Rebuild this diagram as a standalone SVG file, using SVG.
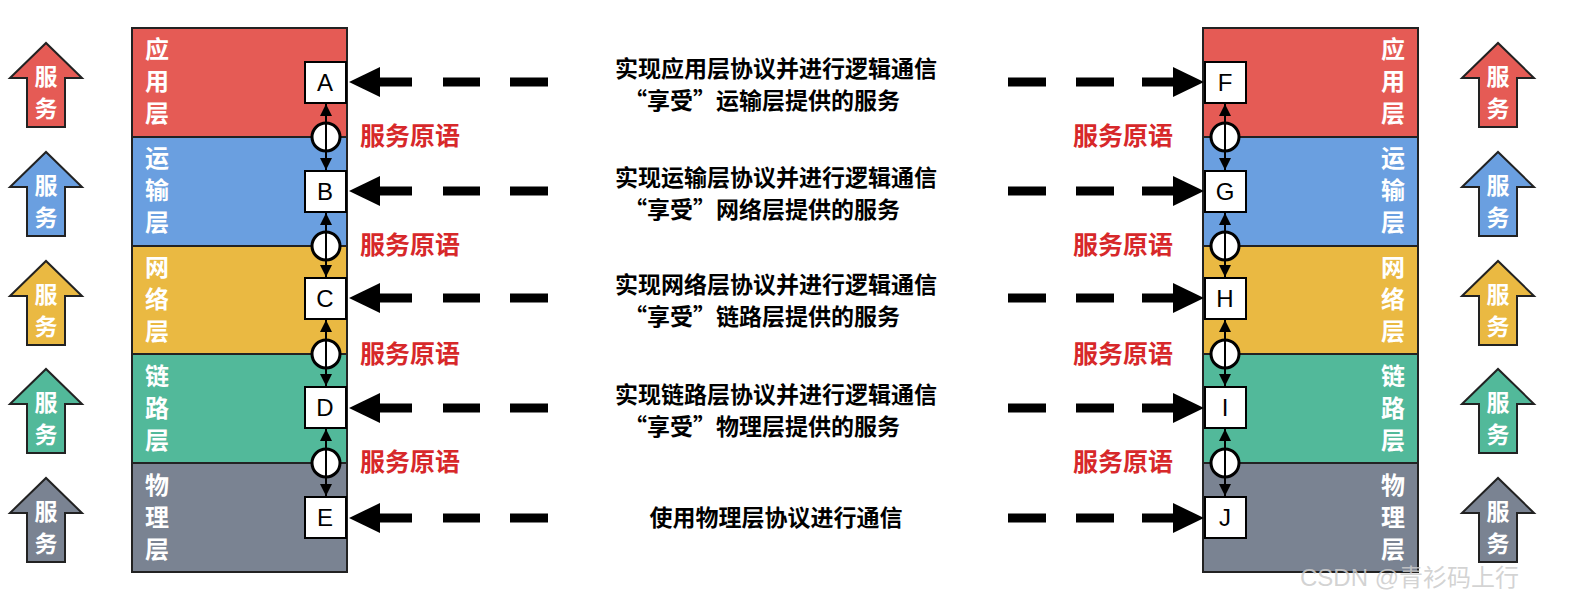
<svg xmlns="http://www.w3.org/2000/svg" width="1587" height="611" viewBox="0 0 1587 611">
<style>
.lt{font-family:"Noto Sans CJK SC",sans-serif;font-weight:bold;font-size:24px;fill:#fff;text-anchor:middle}
.bx{fill:#fff;stroke:#000;stroke-width:2}
.bl{font-family:"Liberation Sans",sans-serif;font-size:24px;text-anchor:middle}
.md{font-family:"Noto Sans CJK SC",sans-serif;font-weight:bold;font-size:23px;text-anchor:middle;fill:#000}
.red{font-family:"Noto Sans CJK SC",sans-serif;font-weight:bold;font-size:25px;fill:#D7282A}
.dash{stroke:#000;stroke-width:9}
.c{fill:#fff;stroke:#000;stroke-width:3}
.v{stroke:#000;stroke-width:2}
.up{stroke:#222;stroke-width:2}
.ut{font-family:"Noto Sans CJK SC",sans-serif;font-weight:bold;font-size:23px;fill:#fff;text-anchor:middle}
</style>
<defs>
<marker id="ah" viewBox="0 0 10 10" refX="10" refY="5" markerWidth="6" markerHeight="6" orient="auto-start-reverse"><path d="M0,0L10,5L0,10z" fill="#000"/></marker>
<path id="uparr" d="M0,35L36,0L72,35L55,35L55,84L17,84L17,35z"/>
</defs>
<rect width="1587" height="611" fill="#fff"/>
<g id="left-stack" stroke="#222" stroke-width="2">
<rect x="132" y="28" width="215" height="109" fill="#E55B55"/>
<rect x="132" y="137" width="215" height="109" fill="#6A9FE0"/>
<rect x="132" y="246" width="215" height="108" fill="#EAB942"/>
<rect x="132" y="354" width="215" height="109" fill="#52B99A"/>
<rect x="132" y="463" width="215" height="109" fill="#7A8392"/>
</g>
<g id="right-stack" stroke="#222" stroke-width="2">
<rect x="1203" y="28" width="215" height="109" fill="#E55B55"/>
<rect x="1203" y="137" width="215" height="109" fill="#6A9FE0"/>
<rect x="1203" y="246" width="215" height="108" fill="#EAB942"/>
<rect x="1203" y="354" width="215" height="109" fill="#52B99A"/>
<rect x="1203" y="463" width="215" height="109" fill="#7A8392"/>
</g>
<g id="layer-labels" class="lt">
<text x="157" y="58" class="lt">应</text><text x="157" y="90" class="lt">用</text><text x="157" y="122" class="lt">层</text>
<text x="157" y="167" class="lt">运</text><text x="157" y="199" class="lt">输</text><text x="157" y="231" class="lt">层</text>
<text x="157" y="276" class="lt">网</text><text x="157" y="308" class="lt">络</text><text x="157" y="340" class="lt">层</text>
<text x="157" y="385" class="lt">链</text><text x="157" y="417" class="lt">路</text><text x="157" y="449" class="lt">层</text>
<text x="157" y="494" class="lt">物</text><text x="157" y="526" class="lt">理</text><text x="157" y="558" class="lt">层</text>
<text x="1393" y="58" class="lt">应</text><text x="1393" y="90" class="lt">用</text><text x="1393" y="122" class="lt">层</text>
<text x="1393" y="167" class="lt">运</text><text x="1393" y="199" class="lt">输</text><text x="1393" y="231" class="lt">层</text>
<text x="1393" y="276" class="lt">网</text><text x="1393" y="308" class="lt">络</text><text x="1393" y="340" class="lt">层</text>
<text x="1393" y="385" class="lt">链</text><text x="1393" y="417" class="lt">路</text><text x="1393" y="449" class="lt">层</text>
<text x="1393" y="494" class="lt">物</text><text x="1393" y="526" class="lt">理</text><text x="1393" y="558" class="lt">层</text>
</g>
<g id="service-arrows">
<use href="#uparr" x="10" y="43" fill="#E55B55" class="up"/>
<use href="#uparr" x="10" y="152" fill="#6A9FE0" class="up"/>
<use href="#uparr" x="10" y="261" fill="#EAB942" class="up"/>
<use href="#uparr" x="10" y="369" fill="#52B99A" class="up"/>
<use href="#uparr" x="10" y="478" fill="#7A8392" class="up"/>
<use href="#uparr" x="1462" y="43" fill="#E55B55" class="up"/>
<use href="#uparr" x="1462" y="152" fill="#6A9FE0" class="up"/>
<use href="#uparr" x="1462" y="261" fill="#EAB942" class="up"/>
<use href="#uparr" x="1462" y="369" fill="#52B99A" class="up"/>
<use href="#uparr" x="1462" y="478" fill="#7A8392" class="up"/>
<g class="ut">
<text x="46" y="85">服</text><text x="46" y="117">务</text>
<text x="46" y="194">服</text><text x="46" y="226">务</text>
<text x="46" y="303">服</text><text x="46" y="335">务</text>
<text x="46" y="411">服</text><text x="46" y="443">务</text>
<text x="46" y="520">服</text><text x="46" y="552">务</text>
<text x="1498" y="85">服</text><text x="1498" y="117">务</text>
<text x="1498" y="194">服</text><text x="1498" y="226">务</text>
<text x="1498" y="303">服</text><text x="1498" y="335">务</text>
<text x="1498" y="411">服</text><text x="1498" y="443">务</text>
<text x="1498" y="520">服</text><text x="1498" y="552">务</text>
</g>
</g>
<g id="connectors">
<g id="vertical">
<line x1="326" y1="104" x2="326" y2="170" class="v" marker-start="url(#ah)" marker-end="url(#ah)"/>
<line x1="326" y1="213" x2="326" y2="277" class="v" marker-start="url(#ah)" marker-end="url(#ah)"/>
<line x1="326" y1="320" x2="326" y2="386" class="v" marker-start="url(#ah)" marker-end="url(#ah)"/>
<line x1="326" y1="429" x2="326" y2="496" class="v" marker-start="url(#ah)" marker-end="url(#ah)"/>
<line x1="1225" y1="104" x2="1225" y2="170" class="v" marker-start="url(#ah)" marker-end="url(#ah)"/>
<line x1="1225" y1="213" x2="1225" y2="277" class="v" marker-start="url(#ah)" marker-end="url(#ah)"/>
<line x1="1225" y1="320" x2="1225" y2="386" class="v" marker-start="url(#ah)" marker-end="url(#ah)"/>
<line x1="1225" y1="429" x2="1225" y2="496" class="v" marker-start="url(#ah)" marker-end="url(#ah)"/>
<circle cx="326" cy="137" r="14" class="c"/><circle cx="326" cy="246" r="14" class="c"/><circle cx="326" cy="354" r="14" class="c"/><circle cx="326" cy="463" r="14" class="c"/>
<circle cx="1225" cy="137" r="14" class="c"/><circle cx="1225" cy="246" r="14" class="c"/><circle cx="1225" cy="354" r="14" class="c"/><circle cx="1225" cy="463" r="14" class="c"/>
<g stroke="#000" stroke-width="2">
<line x1="326" y1="123" x2="326" y2="151"/><line x1="326" y1="232" x2="326" y2="260"/><line x1="326" y1="340" x2="326" y2="368"/><line x1="326" y1="449" x2="326" y2="477"/>
<line x1="1225" y1="123" x2="1225" y2="151"/><line x1="1225" y1="232" x2="1225" y2="260"/><line x1="1225" y1="340" x2="1225" y2="368"/><line x1="1225" y1="449" x2="1225" y2="477"/>
</g>
</g>
<g id="horizontal">
<g id="h1" transform="translate(0,82)">
<path d="M349,0L380,-15L380,15z"/><line x1="378" y1="0" x2="412" y2="0" class="dash"/><line x1="443" y1="0" x2="480" y2="0" class="dash"/><line x1="510" y1="0" x2="548" y2="0" class="dash"/>
<line x1="1008" y1="0" x2="1046" y2="0" class="dash"/><line x1="1076" y1="0" x2="1114" y2="0" class="dash"/><line x1="1142" y1="0" x2="1176" y2="0" class="dash"/><path d="M1204,0L1173,-15L1173,15z"/>
</g>
<g id="h2" transform="translate(0,191)">
<path d="M349,0L380,-15L380,15z"/><line x1="378" y1="0" x2="412" y2="0" class="dash"/><line x1="443" y1="0" x2="480" y2="0" class="dash"/><line x1="510" y1="0" x2="548" y2="0" class="dash"/>
<line x1="1008" y1="0" x2="1046" y2="0" class="dash"/><line x1="1076" y1="0" x2="1114" y2="0" class="dash"/><line x1="1142" y1="0" x2="1176" y2="0" class="dash"/><path d="M1204,0L1173,-15L1173,15z"/>
</g>
<g id="h3" transform="translate(0,298)">
<path d="M349,0L380,-15L380,15z"/><line x1="378" y1="0" x2="412" y2="0" class="dash"/><line x1="443" y1="0" x2="480" y2="0" class="dash"/><line x1="510" y1="0" x2="548" y2="0" class="dash"/>
<line x1="1008" y1="0" x2="1046" y2="0" class="dash"/><line x1="1076" y1="0" x2="1114" y2="0" class="dash"/><line x1="1142" y1="0" x2="1176" y2="0" class="dash"/><path d="M1204,0L1173,-15L1173,15z"/>
</g>
<g id="h4" transform="translate(0,408)">
<path d="M349,0L380,-15L380,15z"/><line x1="378" y1="0" x2="412" y2="0" class="dash"/><line x1="443" y1="0" x2="480" y2="0" class="dash"/><line x1="510" y1="0" x2="548" y2="0" class="dash"/>
<line x1="1008" y1="0" x2="1046" y2="0" class="dash"/><line x1="1076" y1="0" x2="1114" y2="0" class="dash"/><line x1="1142" y1="0" x2="1176" y2="0" class="dash"/><path d="M1204,0L1173,-15L1173,15z"/>
</g>
<g id="h5" transform="translate(0,518)">
<path d="M349,0L380,-15L380,15z"/><line x1="378" y1="0" x2="412" y2="0" class="dash"/><line x1="443" y1="0" x2="480" y2="0" class="dash"/><line x1="510" y1="0" x2="548" y2="0" class="dash"/>
<line x1="1008" y1="0" x2="1046" y2="0" class="dash"/><line x1="1076" y1="0" x2="1114" y2="0" class="dash"/><line x1="1142" y1="0" x2="1176" y2="0" class="dash"/><path d="M1204,0L1173,-15L1173,15z"/>
</g>
</g>
</g>
<g id="A"><rect x="305" y="62" width="41" height="41" class="bx"/><text x="325" y="91" class="bl">A</text></g>
<g id="B"><rect x="305" y="171" width="41" height="41" class="bx"/><text x="325" y="200" class="bl">B</text></g>
<g id="C"><rect x="305" y="278" width="41" height="41" class="bx"/><text x="325" y="307" class="bl">C</text></g>
<g id="D"><rect x="305" y="387" width="41" height="41" class="bx"/><text x="325" y="416" class="bl">D</text></g>
<g id="E"><rect x="305" y="497" width="41" height="41" class="bx"/><text x="325" y="526" class="bl">E</text></g>
<g id="F"><rect x="1205" y="62" width="41" height="41" class="bx"/><text x="1225" y="91" class="bl">F</text></g>
<g id="G"><rect x="1205" y="171" width="41" height="41" class="bx"/><text x="1225" y="200" class="bl">G</text></g>
<g id="H"><rect x="1205" y="278" width="41" height="41" class="bx"/><text x="1225" y="307" class="bl">H</text></g>
<g id="I"><rect x="1205" y="387" width="41" height="41" class="bx"/><text x="1225" y="416" class="bl">I</text></g>
<g id="J"><rect x="1205" y="497" width="41" height="41" class="bx"/><text x="1225" y="526" class="bl">J</text></g>
<g id="mid-labels">
<text x="776" y="77" class="md">实现应用层协议并进行逻辑通信</text><text x="762" y="109" class="md">“享受”运输层提供的服务</text>
<text x="776" y="186" class="md">实现运输层协议并进行逻辑通信</text><text x="762" y="218" class="md">“享受”网络层提供的服务</text>
<text x="776" y="293" class="md">实现网络层协议并进行逻辑通信</text><text x="762" y="325" class="md">“享受”链路层提供的服务</text>
<text x="776" y="403" class="md">实现链路层协议并进行逻辑通信</text><text x="762" y="435" class="md">“享受”物理层提供的服务</text>
<text x="776" y="526" class="md">使用物理层协议进行通信</text>
</g>
<g id="primitives" class="red">
<text x="360" y="145">服务原语</text><text x="360" y="254">服务原语</text><text x="360" y="363">服务原语</text><text x="360" y="471">服务原语</text>
<text x="1073" y="145">服务原语</text><text x="1073" y="254">服务原语</text><text x="1073" y="363">服务原语</text><text x="1073" y="471">服务原语</text>
</g>
<text x="1300" y="586" font-family="Liberation Sans,'Noto Sans CJK SC',sans-serif" font-size="24" fill="#ccc" fill-opacity="0.85">CSDN @青衫码上行</text>
</svg>
